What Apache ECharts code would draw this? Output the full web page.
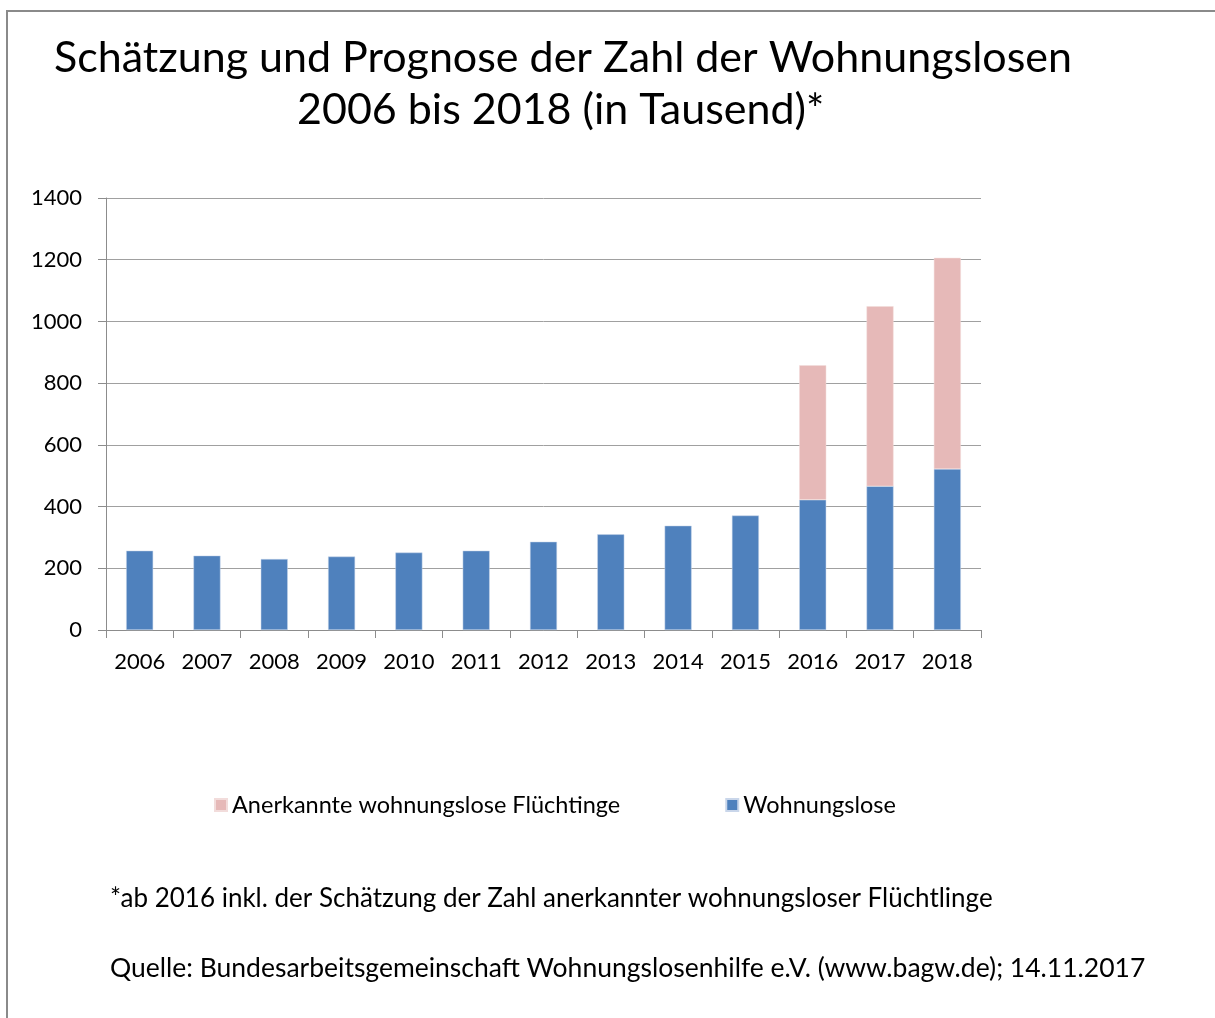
<!DOCTYPE html>
<html>
<head>
<meta charset="utf-8">
<script src="https://cdn.jsdelivr.net/npm/echarts@6/dist/echarts.min.js"></script>
<style>html,body{margin:0;padding:0;background:#fff}#c{width:1215px;height:1018px}</style>
</head>
<body>
<div id="c"></div>
<script>
const years = ['2006','2007','2008','2009','2010','2011','2012','2013','2014','2015','2016','2017','2018'];
const wohnungslose = [257, 241, 230, 238, 251, 257, 286, 310, 338, 371, 422, 466, 522];
const fluechtlinge = ['-', '-', '-', '-', '-', '-', '-', '-', '-', '-', 436, 583, 684];
const yTicks = [0, 200, 400, 600, 800, 1000, 1200, 1400];

const FONT = 'Lato';
const chart = echarts.init(document.getElementById('c'));
chart.setOption({
  backgroundColor: '#fff',
  animation: false,
  textStyle: { fontFamily: FONT, color: '#000' },
  graphic: [
    { type: 'rect', shape: { x: 7, y: 11, width: 1230, height: 1030 }, style: { fill: 'none', stroke: '#8a8a8a', lineWidth: 2 } },
    { type: 'text', left: 54, top: 37, style: { text: 'Schätzung und Prognose der Zahl der Wohnungslosen', font: '43px Lato', fill: '#000' } },
    { type: 'text', left: 297, top: 89, style: { text: '2006 bis 2018 (in Tausend)*', font: '43px Lato', fill: '#000' } },
    { type: 'text', left: 110, top: 886, style: { text: '*ab 2016 inkl. der Schätzung der Zahl anerkannter wohnungsloser Flüchtlinge', font: '26px Lato', fill: '#000' } },
    { type: 'text', left: 110, top: 955, style: { text: 'Quelle: Bundesarbeitsgemeinschaft Wohnungslosenhilfe e.V. (www.bagw.de); 14.11.2017', font: '26.5px Lato', fill: '#000' } }
  ],
  legend: {
    data: ['Anerkannte wohnungslose Flüchtinge', 'Wohnungslose'],
    left: 209, top: 788,
    itemWidth: 12, itemHeight: 12, itemGap: 105,
    icon: 'rect',
    textStyle: { fontFamily: FONT, fontSize: 23.5, color: '#000' }
  },
  grid: { left: 106, right: 234, top: 198, bottom: 388, containLabel: false },
  xAxis: {
    type: 'category',
    data: years,
    axisLine: { lineStyle: { color: '#8c8c8c', width: 1 } },
    axisTick: { show: true, length: 8, interval: 0, lineStyle: { color: '#8c8c8c' }, alignWithLabel: false },
    axisLabel: { interval: 0, fontFamily: FONT, fontSize: 22, color: '#000', margin: 21 }
  },
  yAxis: {
    type: 'value',
    min: 0, max: 1400, interval: 200,
    axisLine: { show: true, lineStyle: { color: '#8c8c8c' } },
    axisTick: { show: true, length: 8, lineStyle: { color: '#8c8c8c' } },
    axisLabel: { fontFamily: FONT, fontSize: 22, color: '#000', margin: 24,
      formatter: v => yTicks.includes(v) ? String(v) : '' },
    splitLine: { lineStyle: { color: '#a0a0a0', width: 1 } }
  },
  series: [
    {
      name: 'Wohnungslose', type: 'bar', stack: 'a', data: wohnungslose,
      barWidth: 27,
      itemStyle: { color: '#4F81BD', borderColor: '#c9d6ea', borderWidth: 0.5 }
    },
    {
      name: 'Anerkannte wohnungslose Flüchtinge', type: 'bar', stack: 'a', data: fluechtlinge,
      barWidth: 27,
      itemStyle: { color: '#E6B9B8', borderColor: '#f2dcdb', borderWidth: 0.5 }
    }
  ]
});
</script>
</body>
</html>
